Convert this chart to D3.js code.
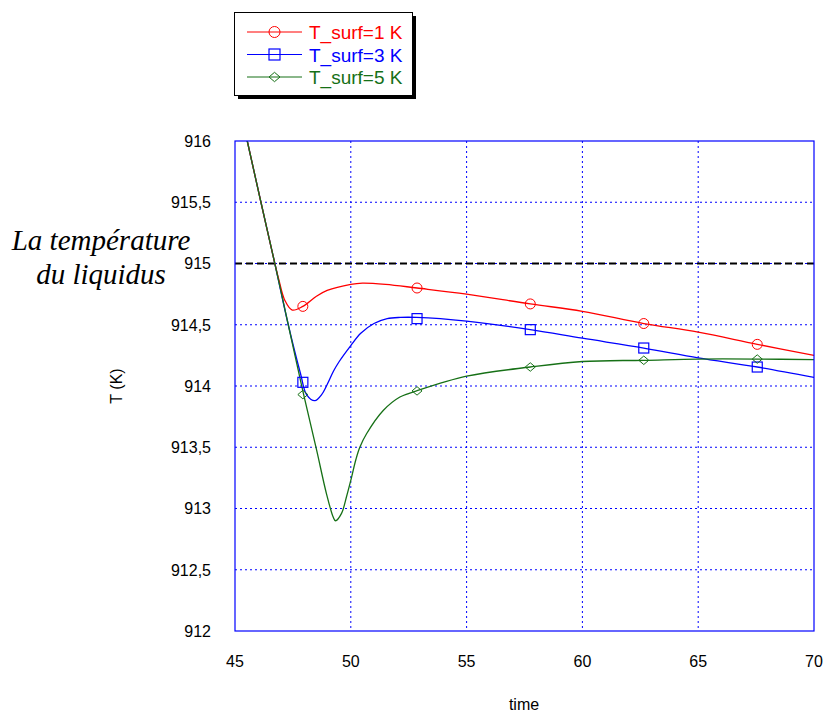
<!DOCTYPE html>
<html>
<head>
<meta charset="utf-8">
<script src="https://cdn.jsdelivr.net/npm/d3@7/dist/d3.min.js"></script>
<style>
  html, body { margin: 0; padding: 0; background: #fff; }
  svg { display: block; }
</style>
</head>
<body>
<svg id="chart" width="827" height="714"></svg>
<script>
// ---- data ----
const seriesNames = ["T_surf=1 K", "T_surf=3 K", "T_surf=5 K"];
const seriesColors = ["#ff0000", "#0000ff", "#167016"];
const markerShapes = ["circle", "square", "diamond"];

const red_t = [45.0, 45.53, 46.12, 46.72, 46.89, 47.15, 47.47, 47.93, 48.5, 48.98, 50.0, 50.5, 51.5, 52.86, 55.0, 57.75, 60.0, 62.65, 65.0, 67.55, 70.0];
const red_T = [916.45, 916.0, 915.5, 915.0, 914.87, 914.70, 914.62, 914.65, 914.73, 914.78, 914.83, 914.84, 914.83, 914.80, 914.75, 914.67, 914.61, 914.51, 914.44, 914.34, 914.25];

const blue_t = [45.0, 45.53, 46.12, 46.72, 47.3, 47.83, 48.09, 48.45, 48.74, 49.0, 49.25, 49.5, 50.0, 50.43, 51.0, 51.57, 52.14, 52.84, 55.0, 57.75, 60.0, 62.65, 65.0, 67.55, 70.0];
const blue_T = [916.45, 916.0, 915.5, 915.0, 914.5, 914.10, 913.93, 913.88, 913.93, 914.02, 914.12, 914.20, 914.33, 914.43, 914.51, 914.55, 914.56, 914.56, 914.53, 914.46, 914.39, 914.31, 914.23, 914.155, 914.07];

const green_t = [45.0, 45.53, 46.12, 46.72, 47.3, 47.94, 48.52, 48.95, 49.24, 49.34, 49.6, 49.82, 50.0, 50.22, 50.39, 50.68, 51.4, 52.12, 52.84, 55.0, 57.75, 60.0, 62.65, 65.0, 67.55, 70.0];
const green_T = [916.45, 916.0, 915.5, 915.0, 914.5, 913.95, 913.48, 913.12, 912.93, 912.90, 912.96, 913.10, 913.23, 913.40, 913.50, 913.61, 913.80, 913.91, 913.96, 914.08, 914.155, 914.20, 914.21, 914.22, 914.22, 914.215];

const markerTimes = [47.93, 52.86, 57.75, 62.65, 67.55];
const red_marks = [914.65, 914.80, 914.67, 914.51, 914.34];
const blue_marks = [914.03, 914.55, 914.46, 914.31, 914.155];
const green_marks = [913.93, 913.96, 914.155, 914.21, 914.22];

const liquidusT = 915;
const xTicks = [45, 50, 55, 60, 65, 70];
const yTicks = [912, 912.5, 913, 913.5, 914, 914.5, 915, 915.5, 916];
const xLabel = "time";
const yLabel = "T (K)";
const annotationLines = ["La température", "du liquidus"];

// ---- chart ----
(function () {
const svg = d3.select("#chart");
const pL = 235, pR = 814, pT = 141, pB = 631;
const x = d3.scaleLinear().domain([45, 70]).range([pL, pR]);
const y = d3.scaleLinear().domain([912, 916]).range([pB, pT]);
const sans = "'Liberation Sans', Arial, Helvetica, sans-serif";
const gridColor = "#0000ff";

svg.append("defs").append("clipPath").attr("id", "plotclip")
  .append("rect").attr("x", pL).attr("y", pT).attr("width", pR - pL).attr("height", pB - pT);

// grid
const grid = svg.append("g");
grid.selectAll("line.vx").data(xTicks.slice(1, -1)).join("line")
  .attr("x1", d => x(d)).attr("x2", d => x(d)).attr("y1", pT).attr("y2", pB)
  .attr("stroke", gridColor).attr("stroke-width", 1).attr("stroke-dasharray", "2,3");
grid.selectAll("line.hy").data(yTicks.slice(1, -1)).join("line")
  .attr("y1", d => y(d)).attr("y2", d => y(d)).attr("x1", pL).attr("x2", pR)
  .attr("stroke", gridColor).attr("stroke-width", 1).attr("stroke-dasharray", "2,3");

// liquidus line
svg.append("line")
  .attr("x1", pL).attr("x2", pR).attr("y1", y(liquidusT)).attr("y2", y(liquidusT))
  .attr("stroke", "#000").attr("stroke-width", 2).attr("stroke-dasharray", "7,4");

// curves
const series = [
  { t: red_t, v: red_T, m: red_marks },
  { t: blue_t, v: blue_T, m: blue_marks },
  { t: green_t, v: green_T, m: green_marks }
];
const line = d3.line().x(d => x(d[0])).y(d => y(d[1])).curve(d3.curveCatmullRom.alpha(0.5));
const plot = svg.append("g").attr("clip-path", "url(#plotclip)");

function drawMarker(g, shape, cx, cy, color, s) {
  if (shape === "circle") {
    g.append("circle").attr("cx", cx).attr("cy", cy).attr("r", s)
      .attr("fill", "none").attr("stroke", color).attr("stroke-width", 1);
  } else if (shape === "square") {
    g.append("rect").attr("x", cx - s).attr("y", cy - s).attr("width", 2 * s).attr("height", 2 * s)
      .attr("fill", "none").attr("stroke", color).attr("stroke-width", 1.2);
  } else {
    g.append("path")
      .attr("d", `M${cx - s},${cy}L${cx},${cy - s * 0.85}L${cx + s},${cy}L${cx},${cy + s * 0.85}Z`)
      .attr("fill", "none").attr("stroke", color).attr("stroke-width", 1);
  }
}

[1, 0, 2].forEach(i => {
  const s = series[i];
  const pts = s.t.map((t, k) => [t, s.v[k]]);
  plot.append("path").attr("d", line(pts)).attr("fill", "none")
    .attr("stroke", seriesColors[i]).attr("stroke-width", 1.3);
});
series.forEach((s, i) => {
  markerTimes.forEach((t, k) => drawMarker(plot, markerShapes[i], x(t), y(s.m[k]), seriesColors[i], 5));
});

// frame
svg.append("rect").attr("x", pL).attr("y", pT).attr("width", pR - pL).attr("height", pB - pT)
  .attr("fill", "none").attr("stroke", gridColor).attr("stroke-width", 1.2);

// axes tick labels
svg.append("g").selectAll("text").data(yTicks).join("text")
  .attr("x", 211).attr("y", d => y(d)).attr("dy", "0.36em")
  .attr("text-anchor", "end").attr("font-family", sans).attr("font-size", 16).attr("fill", "#000")
  .text(d => String(d).replace(".", ","));
svg.append("g").selectAll("text").data(xTicks).join("text")
  .attr("x", d => x(d)).attr("y", 667)
  .attr("text-anchor", "middle").attr("font-family", sans).attr("font-size", 16).attr("fill", "#000")
  .text(d => d);

svg.append("text").attr("x", 524).attr("y", 710).attr("text-anchor", "middle")
  .attr("font-family", sans).attr("font-size", 16).text(xLabel);
svg.append("text").attr("transform", "translate(122,386) rotate(-90)").attr("text-anchor", "middle")
  .attr("font-family", sans).attr("font-size", 16).text(yLabel);

// annotation
svg.append("g").selectAll("text").data(annotationLines).join("text")
  .attr("x", 101).attr("y", (d, i) => 250 + i * 34)
  .attr("text-anchor", "middle").attr("font-family", "'Liberation Serif', 'Times New Roman', serif")
  .attr("font-style", "italic").attr("font-size", 29).attr("fill", "#000").text(d => d);

// legend
const lg = svg.append("g");
lg.append("rect").attr("x", 238).attr("y", 16).attr("width", 178).attr("height", 83).attr("fill", "#000");
lg.append("rect").attr("x", 234.5).attr("y", 12.5).attr("width", 178).attr("height", 83)
  .attr("fill", "#fff").attr("stroke", "#000").attr("stroke-width", 1);
const rowsY = [32, 54.5, 77];
seriesNames.forEach((name, i) => {
  const ry = rowsY[i];
  lg.append("line").attr("x1", 247).attr("x2", 302).attr("y1", ry).attr("y2", ry)
    .attr("stroke", seriesColors[i]).attr("stroke-width", 1.2);
  drawMarker(lg, markerShapes[i], 274.5, ry, seriesColors[i], 5.5);
  lg.append("text").attr("x", 309).attr("y", ry + 7).attr("font-family", sans).attr("font-size", 19)
    .attr("fill", seriesColors[i]).text(name);
});
})();
</script>
</body>
</html>
